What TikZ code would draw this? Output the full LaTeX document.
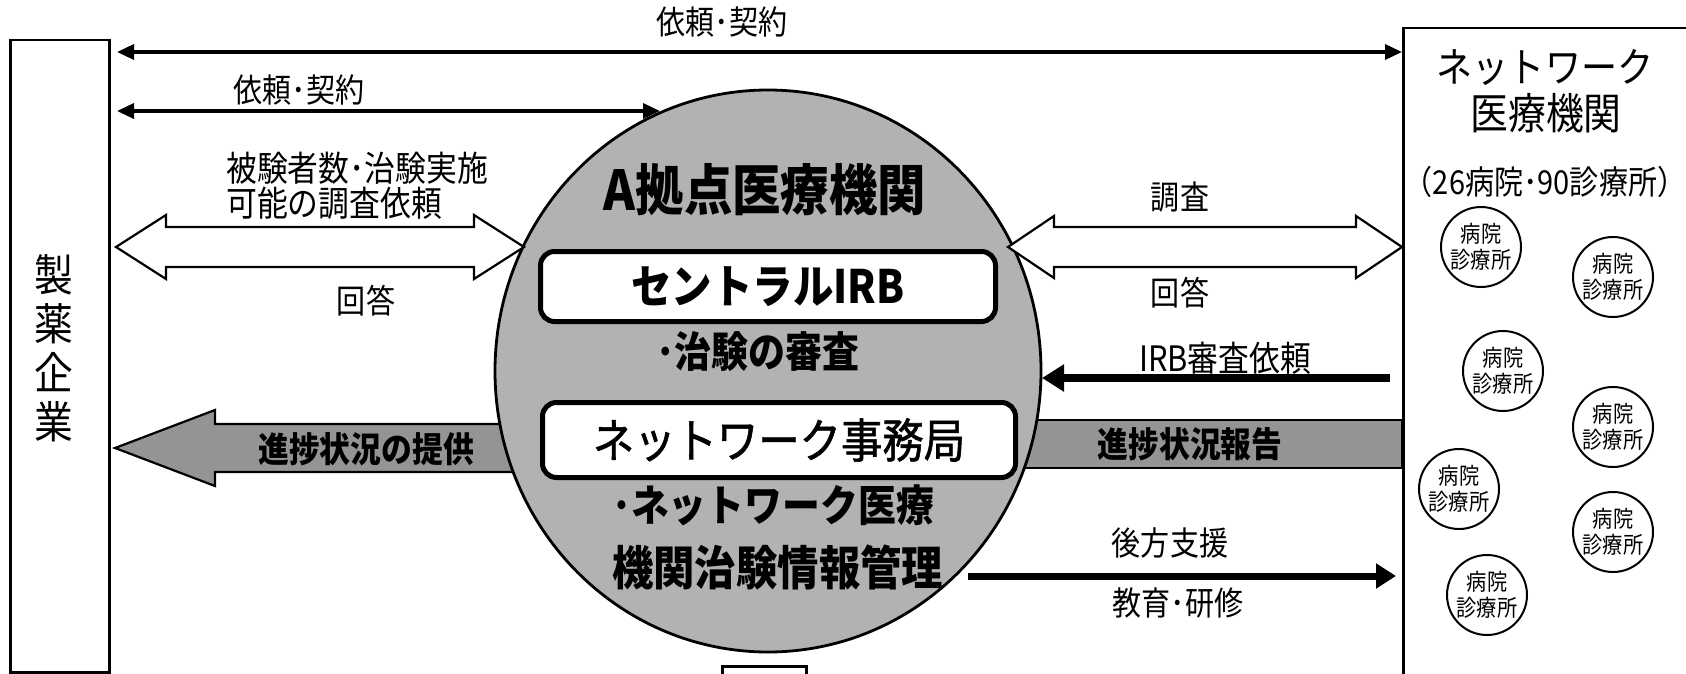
\documentclass[tikz,border=0pt]{standalone}
\usepackage{fontspec}
\setmainfont[FakeStretch=0.88]{Noto Sans CJK JP}
\usetikzlibrary{arrows.meta,calc,shapes.geometric}
\newcommand\fsz[1]{\fontsize{#1}{#1}\selectfont}
\newcommand\opendarrow[6]{%
  \draw[openarr] (#1,#3) -- (#1+#6,#3-#5) -- (#1+#6,#3-#4) -- (#2-#6,#3-#4)
    -- (#2-#6,#3-#5) -- (#2,#3) -- (#2-#6,#3+#5) -- (#2-#6,#3+#4)
    -- (#1+#6,#3+#4) -- (#1+#6,#3+#5) -- cycle;}
\tikzset{
  frame/.style={draw, line width=2.5pt},
  lbl/.style={inner sep=0pt, font=\fsz{33}},
  openarr/.style={draw, line width=2.2pt, fill=white, line join=miter},
  bar/.style={draw, line width=2.2pt, fill=black!42, line join=miter},
  thinarr/.style={line width=3.5pt, {Triangle[length=17pt,width=15pt]}-{Triangle[length=17pt,width=15pt]}},
  thickarr/.style={line width=8pt, -{Triangle[length=22pt,width=26pt]}},
  medarr/.style={line width=7pt, -{Triangle[length=20pt,width=24pt]}},
  rbox/.style={draw, line width=5pt, rounded corners=14pt, fill=white, inner sep=0pt},
  site/.style={draw, circle, line width=2pt, minimum size=80pt, inner sep=0pt, align=center, font=\fontsize{23}{26}\selectfont},
}
\begin{document}
\begin{tikzpicture}[x=1pt,y=-1pt]
\useasboundingbox (0,0) rectangle (1686,674);
% outer boxes
\node[frame, minimum width=99pt, minimum height=632pt, anchor=north west, inner sep=0pt] (comp) at (9,39) {};
\node[inner sep=0pt, align=center, font=\fontsize{44}{49}\selectfont] (compt) at (54,348) {製\\薬\\企\\業};
\node[frame, minimum width=300pt, minimum height=680pt, anchor=north west, inner sep=0pt] (net) at (1402,27) {};
\node[inner sep=0pt, font=\fsz{41}] (net1) at (1545,67) {ネットワーク};
\node[inner sep=0pt, font=\fsz{43}] (net2) at (1546,113) {医療機関};
\node[inner sep=0pt, font=\fsz{33}] (net3) at (1545,182) {（26病院･90診療所）};
% sites
\node[site] (s1) at (1481,247) {病院\\診療所};
\node[site] (s2) at (1613,277) {病院\\診療所};
\node[site] (s3) at (1503,371) {病院\\診療所};
\node[site] (s4) at (1613,427) {病院\\診療所};
\node[site] (s5) at (1459,489) {病院\\診療所};
\node[site] (s6) at (1613,532) {病院\\診療所};
\node[site] (s7) at (1487,595) {病院\\診療所};
% bottom small box
\node[frame, minimum width=84pt, minimum height=40pt, anchor=north west, inner sep=0pt] (bot) at (721,665) {};
% progress bars (behind hub)
\draw[bar] (560,424) -- (215,424) -- (215,410) -- (115,448) -- (215,486) -- (215,472) -- (560,472) -- cycle;
\draw[bar] (900,420) rectangle (1402,468);
% hub
\node[ellipse, draw, line width=2.8pt, fill=black!30, minimum width=546pt, minimum height=562pt, inner sep=0pt] (hub) at (768,371) {};
\node[inner sep=0pt, font=\bfseries\fsz{55}] (hubt) at (765,190) {A拠点医療機関};
\node[rbox, minimum width=455pt, minimum height=70pt, anchor=north west] (irb) at (538,249) {};
\node[inner sep=0pt, font=\bfseries\fsz{46}] at (irb.center) {セントラルIRB};
\node[inner sep=0pt, font=\bfseries\fsz{42}] (rev) at (758,352) {･治験の審査};
\node[rbox, minimum width=473pt, minimum height=75pt, anchor=north west] (nwo) at (540,400) {};
\node[inner sep=0pt, font=\fsz{47}\addfontfeature{FakeBold=1.2}] at (nwo.center) {ネットワーク事務局};
\node[inner sep=0pt, anchor=west, font=\bfseries\fsz{43}] (mgmt1) at (612,505) {･ネットワーク医療};
\node[inner sep=0pt, anchor=west, font=\bfseries\fsz{47}] (mgmt2) at (612,567) {機関治験情報管理};
% bar labels
\node[inner sep=0pt, font=\bfseries\fsz{35}] at (366,449) {進捗状況の提供};
\node[inner sep=0pt, font=\bfseries\fsz{35}] at (1190,444) {進捗状況報告};
% open double arrows
\opendarrow{116}{524}{247}{20}{32}{50}
\opendarrow{1008}{1402}{247}{20}{31}{46}
% thin arrows
\coordinate (a1l) at (117,52);
\coordinate (a1r) at ($(net.north west)+(0,25)$);
\draw[thinarr] (a1l) -- (a1r |- a1l);
\node[lbl] at (722,22) {依頼･契約};
\coordinate (a2l) at (117,111);
\coordinate (a2r) at (660,111);
\draw[thinarr] (a2l) -- (a2r);
\node[lbl] at (299,90) {依頼･契約};
\node[lbl, align=left, anchor=west, font=\fontsize{35}{35}\selectfont] at (226,186) {被験者数･治験実施\\可能の調査依頼};
\node[lbl] at (366,301) {回答};
\node[lbl] at (1180,197) {調査};
\node[lbl] at (1180,293) {回答};
% IRB request
\coordinate (irbs) at (1390,378);
\coordinate (irbe) at (1042,378);
\draw[thickarr] (irbs) -- (irbe);
\node[lbl, font=\fsz{35}] at (1225,358) {IRB審査依頼};
% support
\coordinate (sups) at (968,576);
\coordinate (supe) at (1396,576);
\draw[medarr] (sups) -- (supe);
\node[lbl] at (1170,543) {後方支援};
\node[lbl] at (1178,603) {教育･研修};
\end{tikzpicture}
\end{document}
